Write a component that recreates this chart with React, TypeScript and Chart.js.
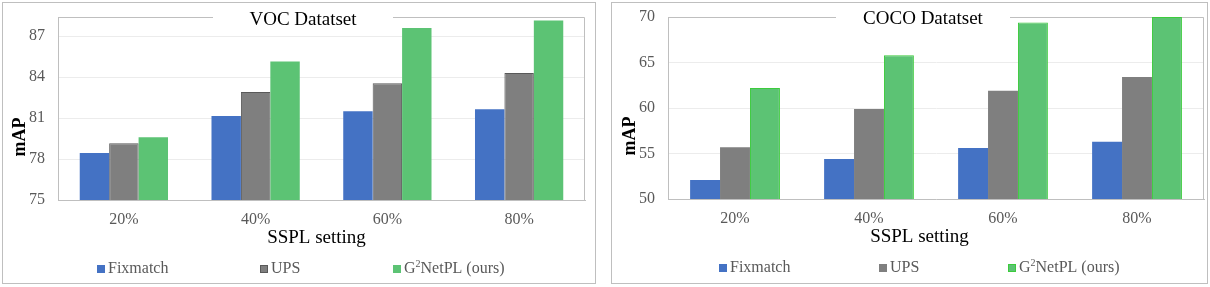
import React, { useEffect, useRef } from "react";
import { Chart, registerables } from "chart.js";

Chart.register(...registerables);

// ---- data ----
const categories = ["20%", "40%", "60%", "80%"];
const seriesNames = ["Fixmatch", "UPS", "G²NetPL (ours)"];

const vocFixmatch = [78.45, 81.15, 81.5, 81.65];
const vocUPS = [79.15, 82.9, 83.55, 84.3];
const vocG2NetPL = [79.6, 85.15, 87.6, 88.15];
const vocTicks = [75, 78, 81, 84, 87];
const vocRange = [75, 88.4];

const cocoFixmatch = [52.1, 54.4, 55.6, 56.3];
const cocoUPS = [55.7, 59.9, 61.9, 63.4];
const cocoG2NetPL = [62.2, 65.8, 69.4, 70.0];
const cocoTicks = [50, 55, 60, 65, 70];
const cocoRange = [50, 70];

const seriesColors = ["#4472C4", "#7F7F7F", "#5CC374"];
const FONT = '"Liberation Serif", "Times New Roman", serif';

type Cfg = {
  canvasW: number;
  canvasH: number;
  yAxisW: number;
  padRight: number;
  padTop: number;
  xAxisH: number;
  title: string;
  titleX: number;
  titleBase: number;
  gap: [number, number];
  xTitle: string;
  xTitleX: number;
  xTitleBase: number;
  yTitle: string;
  yTitleX: number;
  yTitleY: number;
  legendXs: number[];
  legendBase: number;
  range: number[];
  ticks: number[];
  series: number[][];
  borders: (string | null)[];
};

const vocCfg: Cfg = {
  canvasW: 592,
  canvasH: 280,
  yAxisW: 55,
  padRight: 10,
  padTop: 14,
  xAxisH: 83,
  title: "VOC Datatset",
  titleX: 300,
  titleBase: 22,
  gap: [210, 390],
  xTitle: "SSPL setting",
  xTitleX: 313.5,
  xTitleBase: 240,
  yTitle: "mAP",
  yTitleX: 17,
  yTitleY: 134,
  legendXs: [94, 257, 390],
  legendBase: 270,
  range: vocRange,
  ticks: vocTicks,
  series: [vocFixmatch, vocUPS, vocG2NetPL],
  borders: [null, "#595959", null],
};

const cocoCfg: Cfg = {
  canvasW: 595,
  canvasH: 280,
  yAxisW: 56,
  padRight: 3,
  padTop: 14,
  xAxisH: 84,
  title: "COCO Datatset",
  titleX: 311,
  titleBase: 21,
  gap: [224, 398],
  xTitle: "SSPL setting",
  xTitleX: 307.5,
  xTitleBase: 239,
  yTitle: "mAP",
  yTitleX: 18,
  yTitleY: 133,
  legendXs: [107, 267, 396],
  legendBase: 269,
  range: cocoRange,
  ticks: cocoTicks,
  series: [cocoFixmatch, cocoUPS, cocoG2NetPL],
  borders: [null, null, "#3CCB3C"],
};

function drawLabel(ctx: CanvasRenderingContext2D, text: string, x: number, y: number) {
  const parts = text.split("²");
  ctx.textAlign = "left";
  ctx.textBaseline = "alphabetic";
  ctx.font = `16px ${FONT}`;
  if (parts.length === 1) {
    ctx.fillText(text, x, y);
    return;
  }
  ctx.fillText(parts[0], x, y);
  let cx = x + ctx.measureText(parts[0]).width;
  ctx.font = `10px ${FONT}`;
  ctx.fillText("2", cx, y - 6);
  cx += ctx.measureText("2").width;
  ctx.font = `16px ${FONT}`;
  ctx.fillText(parts[1], cx, y);
}

function makeDecor(cfg: Cfg) {
  return {
    id: "decor",
    beforeDatasetsDraw(chart: any) {
      const ctx: CanvasRenderingContext2D = chart.ctx;
      const { left, right, top, bottom } = chart.chartArea;
      ctx.save();
      ctx.fillStyle = "#ffffff";
      ctx.fillRect(cfg.gap[0], top - 2, cfg.gap[1] - cfg.gap[0], 4);
      ctx.strokeStyle = "#bfbfbf";
      ctx.lineWidth = 1;
      const ty = Math.round(top) + 0.5;
      const rx = Math.round(right) - 0.5;
      ctx.beginPath();
      ctx.moveTo(left, ty);
      ctx.lineTo(cfg.gap[0], ty);
      ctx.moveTo(cfg.gap[1], ty);
      ctx.lineTo(rx, ty);
      ctx.moveTo(rx, ty);
      ctx.lineTo(rx, bottom);
      ctx.stroke();
      ctx.restore();
    },
    afterDraw(chart: any) {
      const ctx: CanvasRenderingContext2D = chart.ctx;
      ctx.save();
      ctx.fillStyle = "#000000";
      ctx.font = `19px ${FONT}`;
      ctx.textAlign = "center";
      ctx.textBaseline = "alphabetic";
      ctx.fillText(cfg.title, cfg.titleX, cfg.titleBase);
      ctx.fillText(cfg.xTitle, cfg.xTitleX, cfg.xTitleBase);
      ctx.save();
      ctx.translate(cfg.yTitleX, cfg.yTitleY);
      ctx.rotate(-Math.PI / 2);
      ctx.font = `bold 18px ${FONT}`;
      ctx.textBaseline = "middle";
      ctx.fillText(cfg.yTitle, 0, 0);
      ctx.restore();
      chart.data.datasets.forEach((ds: any, i: number) => {
        const x = cfg.legendXs[i];
        const y = cfg.legendBase;
        ctx.fillStyle = ds.backgroundColor;
        ctx.fillRect(x, y - 8, 8, 8);
        if (cfg.borders[i]) {
          ctx.strokeStyle = cfg.borders[i] as string;
          ctx.lineWidth = 1;
          ctx.strokeRect(x + 0.5, y - 7.5, 7, 7);
        }
        ctx.fillStyle = "#595959";
        drawLabel(ctx, ds.label, x + 11, y);
      });
      ctx.restore();
    },
  };
}

function BarChart({ cfg }: { cfg: Cfg }) {
  const ref = useRef<HTMLCanvasElement>(null);
  useEffect(() => {
    if (!ref.current) return;
    const chart = new Chart(ref.current, {
      type: "bar",
      data: {
        labels: categories,
        datasets: cfg.series.map((vals, i) => ({
          label: seriesNames[i],
          data: vals,
          backgroundColor: seriesColors[i],
          borderColor: cfg.borders[i] || seriesColors[i],
          borderWidth: cfg.borders[i] ? 1 : 0,
          borderSkipped: "bottom",
          categoryPercentage: 0.67,
          barPercentage: 1.0,
        })),
      },
      options: {
        responsive: false,
        animation: false,
        devicePixelRatio: 1,
        layout: { padding: { left: 0, right: cfg.padRight, top: cfg.padTop, bottom: 0 } },
        plugins: {
          legend: { display: false },
          title: { display: false },
          tooltip: { enabled: false },
        },
        scales: {
          x: {
            grid: { display: false, drawTicks: false },
            border: { display: true, color: "#bfbfbf", width: 1 },
            ticks: { color: "#595959", font: { family: FONT, size: 16 }, padding: 10 },
            afterFit: (s: any) => {
              s.height = cfg.xAxisH;
              s.paddingLeft = 0;
              s.paddingRight = 0;
            },
          },
          y: {
            min: cfg.range[0],
            max: cfg.range[1],
            grid: { color: "#ececec", lineWidth: 1, drawTicks: false },
            border: { display: true, color: "#bfbfbf", width: 1 },
            ticks: { color: "#595959", font: { family: FONT, size: 16 }, padding: 13 },
            afterBuildTicks: (s: any) => {
              s.ticks = cfg.ticks.map((v) => ({ value: v }));
            },
            afterFit: (s: any) => {
              s.width = cfg.yAxisW;
              s.paddingTop = 0;
              s.paddingBottom = 0;
            },
          },
        },
      } as any,
      plugins: [makeDecor(cfg)],
    });
    return () => chart.destroy();
  }, [cfg]);
  return <canvas ref={ref} width={cfg.canvasW} height={cfg.canvasH} style={{ display: "block" }} />;
}

export default function App() {
  useEffect(() => {
    document.body.style.margin = "0";
  }, []);
  const box: React.CSSProperties = {
    position: "absolute",
    top: 2,
    border: "1px solid #bfbfbf",
    background: "#ffffff",
  };
  return (
    <div style={{ position: "relative", width: 1210, height: 287, background: "#ffffff" }}>
      <div style={{ ...box, left: 2, width: vocCfg.canvasW, height: vocCfg.canvasH }}>
        <BarChart cfg={vocCfg} />
      </div>
      <div style={{ ...box, left: 611, width: cocoCfg.canvasW, height: cocoCfg.canvasH }}>
        <BarChart cfg={cocoCfg} />
      </div>
    </div>
  );
}
